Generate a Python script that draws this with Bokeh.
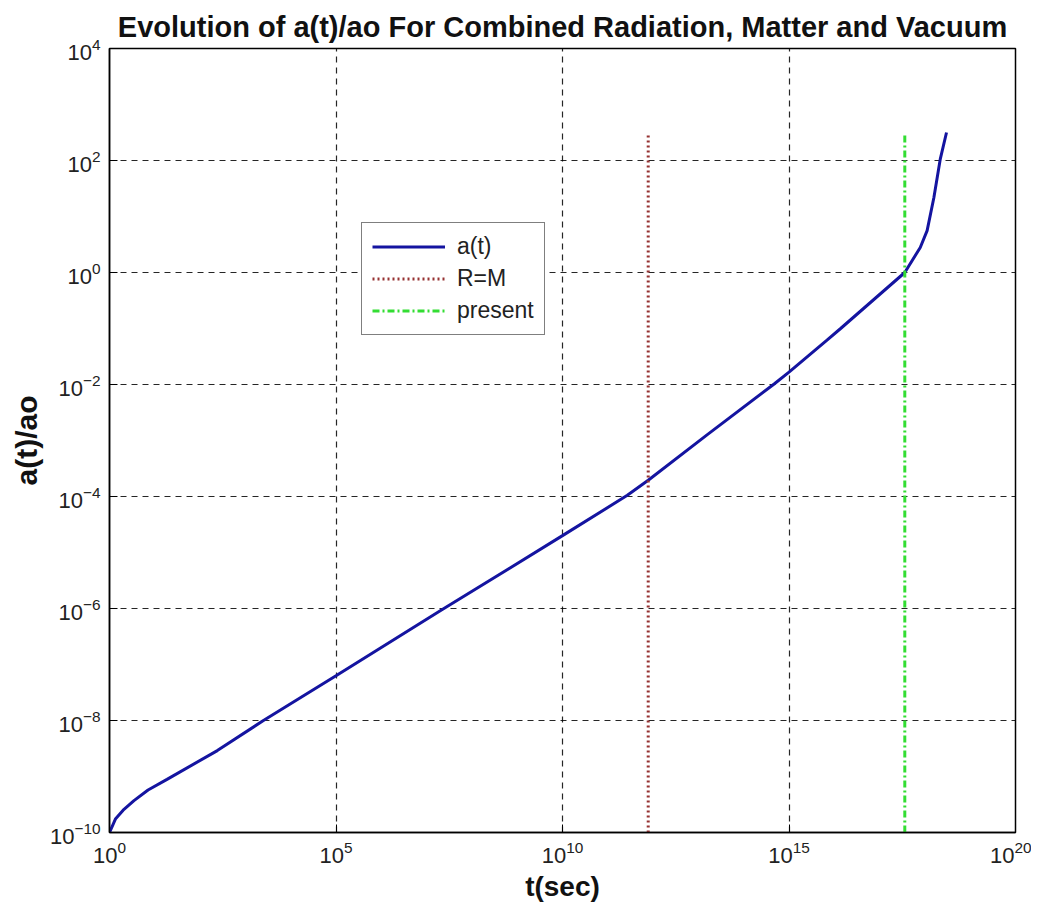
from bokeh.plotting import figure
from bokeh.models import Range1d, FixedTicker, LogTickFormatter, Legend, LegendItem
from bokeh.embed import file_html
from bokeh.resources import INLINE

# a(t) curve
t_sec = [1.0, 1.35, 2.0, 3.47, 7.1, 18.6, 240.0, 2.5e3, 1.0e5, 2.0e7, 1.0e10,
         2.7e11, 7.8e11, 1.55e13, 4.7e14, 1.0e15, 6.9e15, 1.38e16, 3.6e17,
         7.9e17, 1.12e18, 1.58e18, 2.19e18, 3.0e18]
a_ratio = [1.0e-10, 1.74e-10, 2.5e-10, 3.7e-10, 5.75e-10, 8.9e-10, 2.9e-9,
           1.0e-8, 6.3e-8, 9.1e-7, 2.0e-5, 1.05e-4, 1.95e-4, 1.26e-3, 1.02e-2,
           1.66e-2, 6.2e-2, 0.1, 1.0, 2.8, 5.6, 21.9, 107.0, 316.0]

# vertical markers
t_rm = [7.8e11, 7.8e11]
t_present = [3.6e17, 3.6e17]
marker_span = [1.0e-10, 316.0]

x_ticks = [1e0, 1e5, 1e10, 1e15, 1e20]
y_ticks = [1e-10, 1e-8, 1e-6, 1e-4, 1e-2, 1e0, 1e2, 1e4]

FONT = "Liberation Sans"

p = figure(width=1031, height=906, x_axis_type="log", y_axis_type="log",
           x_range=Range1d(1e0, 1e20), y_range=Range1d(1e-10, 1e4),
           output_backend="svg", toolbar_location=None,
           min_border_left=109, min_border_right=16,
           min_border_top=48, min_border_bottom=74,
           title="Evolution of a(t)/ao For Combined Radiation, Matter and Vacuum")

p.title.text_font = FONT
p.title.text_font_size = "29px"
p.title.text_font_style = "bold"
p.title.align = "center"
p.title.vertical_align = "top"
p.title.text_color = "#111111"
p.title.standoff = 8

p.outline_line_color = "black"
p.outline_line_width = 1.5
p.outline_line_alpha = 1.0

for ax, ticks in ((p.xaxis[0], x_ticks), (p.yaxis[0], y_ticks)):
    ax.ticker = FixedTicker(ticks=ticks, minor_ticks=[])
    ax.formatter = LogTickFormatter()
    ax.major_label_text_font = FONT
    ax.major_label_text_font_size = "22px"
    ax.major_label_text_color = "#222222"
    ax.major_tick_in = 8
    ax.major_tick_out = 0
    ax.minor_tick_in = 0
    ax.minor_tick_out = 0
    ax.axis_line_color = "black"
    ax.axis_line_width = 1.5
    ax.major_tick_line_color = "black"
    ax.axis_label_text_font = FONT
    ax.axis_label_text_font_style = "bold"
    ax.axis_label_text_color = "#111111"

p.xaxis.axis_label = "t(sec)"
p.yaxis.axis_label = "a(t)/ao"
p.xaxis.axis_label_text_font_size = "28px"
p.yaxis.axis_label_text_font_size = "30px"
p.xaxis.major_label_standoff = 8
p.yaxis.major_label_standoff = 9
p.xaxis.axis_label_standoff = 5
p.yaxis.axis_label_standoff = 4

for g in (p.xgrid[0], p.ygrid[0]):
    g.grid_line_color = "black"
    g.grid_line_dash = "6 5"
    g.grid_line_width = 1.2
    g.grid_line_alpha = 0.85

r_a = p.line(t_sec, a_ratio, line_color="#1414a0", line_width=3)
r_rm = p.line(t_rm, marker_span, line_color="#963232", line_width=3,
              line_dash="2 3")
r_pr = p.line(t_present, marker_span, line_color="#33dd33", line_width=3,
              line_dash="7 3 2 3")

legend = Legend(items=[LegendItem(label="a(t)", renderers=[r_a]),
                       LegendItem(label="R=M", renderers=[r_rm]),
                       LegendItem(label="present", renderers=[r_pr])],
                location=(252, 497))
legend.label_text_font = FONT
legend.label_text_font_size = "23px"
legend.label_text_color = "#222222"
legend.glyph_width = 73
legend.glyph_height = 27
legend.label_height = 27
legend.spacing = 5
legend.padding = 10
legend.margin = 0
legend.label_standoff = 12
legend.border_line_color = "black"
legend.border_line_width = 1.5
legend.background_fill_color = "white"
legend.background_fill_alpha = 1.0
p.add_layout(legend)

open("out.html", "w").write(file_html(p, INLINE))
